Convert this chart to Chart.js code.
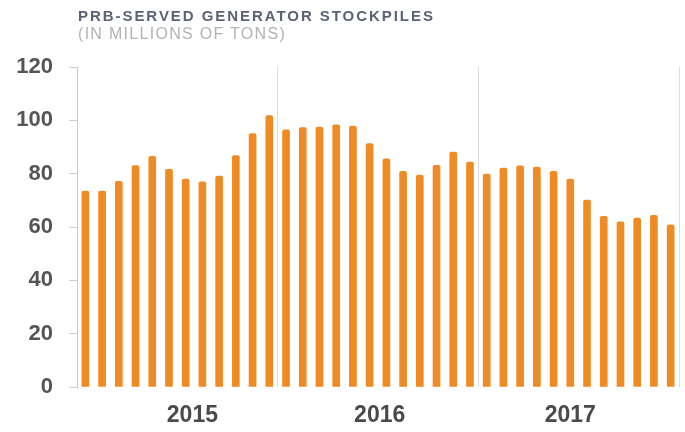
<!DOCTYPE html>
<html>
<head>
<meta charset="utf-8">
<script src="https://cdn.jsdelivr.net/npm/chart.js@4"></script>
<style>
    html, body { margin: 0; padding: 0; background: #fff; }
    #wrap { position: relative; width: 685px; height: 432px; }
    #chart { position: absolute; left: 0; top: 0; }
    .title {
        position: absolute;
        left: 78px;
        top: 8px;
        font: bold 15px "Liberation Sans", Arial, sans-serif;
        line-height: 15px;
        letter-spacing: 1.95px;
        color: #5a6275;
        white-space: nowrap;
    }
    .subtitle {
        position: absolute;
        left: 78px;
        top: 26px;
        font: 16px "Liberation Sans", Arial, sans-serif;
        line-height: 16px;
        letter-spacing: 1.3px;
        color: #b3b3b3;
        white-space: nowrap;
    }
</style>
</head>
<body>
<div id="wrap">
    <canvas id="chart" width="685" height="432"></canvas>
    <div class="title">PRB-SERVED GENERATOR STOCKPILES</div>
    <div class="subtitle">(IN MILLIONS OF TONS)</div>
</div>
<script>
// monthly stockpiles, Jan 2015 - Dec 2017 (millions of tons)
const months = [
    "2015-01", "2015-02", "2015-03", "2015-04", "2015-05", "2015-06",
    "2015-07", "2015-08", "2015-09", "2015-10", "2015-11", "2015-12",
    "2016-01", "2016-02", "2016-03", "2016-04", "2016-05", "2016-06",
    "2016-07", "2016-08", "2016-09", "2016-10", "2016-11", "2016-12",
    "2017-01", "2017-02", "2017-03", "2017-04", "2017-05", "2017-06",
    "2017-07", "2017-08", "2017-09", "2017-10", "2017-11", "2017-12",
];
const stockpiles = [
    73.5, 73.5, 77.1, 83.0, 86.5, 81.6, 78.0, 76.9, 79.1, 86.8, 95.0, 101.8,
    96.4, 97.3, 97.5, 98.3, 97.8, 91.3, 85.6, 80.9, 79.5, 83.1, 88.1, 84.3,
    79.8, 82.1, 82.9, 82.5, 80.9, 78.0, 70.1, 64.0, 61.9, 63.3, 64.4, 60.8,
];
const yearLabels = ["2015", "2016", "2017"];
// where each year label sits, in month-index units
const yearLabelAt = [6.4, 17.6, 29.0];
const yTicks = [0, 20, 40, 60, 80, 100, 120];

const fontFamily = "'Liberation Sans', Arial, sans-serif";

// year labels under the bars, placed through the category scale
const yearLabelPlugin = {
    id: "yearLabels",
    afterDraw(chart) {
        const { ctx, chartArea } = chart;
        const xScale = chart.scales.x;
        ctx.save();
        ctx.font = `bold 23px ${fontFamily}`;
        ctx.fillStyle = "#4a4a4a";
        ctx.textAlign = "center";
        ctx.textBaseline = "middle";
        yearLabels.forEach((label, i) => {
            ctx.fillText(label, xScale.getPixelForValue(yearLabelAt[i]), chartArea.bottom + 29);
        });
        ctx.restore();
    },
};

new Chart("chart", {
    type: "bar",
    data: {
        labels: months,
        datasets: [
            {
                label: "Stockpiles",
                data: stockpiles,
                backgroundColor: "#EF8B24",
                borderRadius: 2,
                borderSkipped: "bottom",
                barThickness: 7,
            },
        ],
    },
    options: {
        responsive: false,
        animation: false,
        layout: {
            padding: { top: 67, right: 6, bottom: 45, left: 0 },
        },
        scales: {
            x: {
                type: "category",
                offset: true,
                ticks: { display: false },
                grid: {
                    offset: true,
                    drawTicks: false,
                    lineWidth: 1,
                    // a line at each year boundary (the closing line has no tick context)
                    color: (ctx) =>
                        ctx.type !== "tick" || ctx.index % 12 === 0 ? "#dcdcdc" : "rgba(0,0,0,0)",
                },
                border: { display: false },
            },
            y: {
                min: 0,
                max: 120,
                afterBuildTicks: (scale) => {
                    scale.ticks = yTicks.map((v) => ({ value: v }));
                },
                afterFit: (scale) => {
                    scale.width = 77;
                },
                ticks: {
                    padding: 16,
                    color: "#555555",
                    font: { family: fontFamily, size: 22, weight: "bold" },
                },
                grid: {
                    drawOnChartArea: false,
                    tickLength: 8,
                    color: "#cccccc",
                },
                border: { color: "#cccccc" },
            },
        },
        plugins: {
            legend: { display: false },
            tooltip: { enabled: false },
        },
    },
    plugins: [yearLabelPlugin],
});
</script>
</body>
</html>
